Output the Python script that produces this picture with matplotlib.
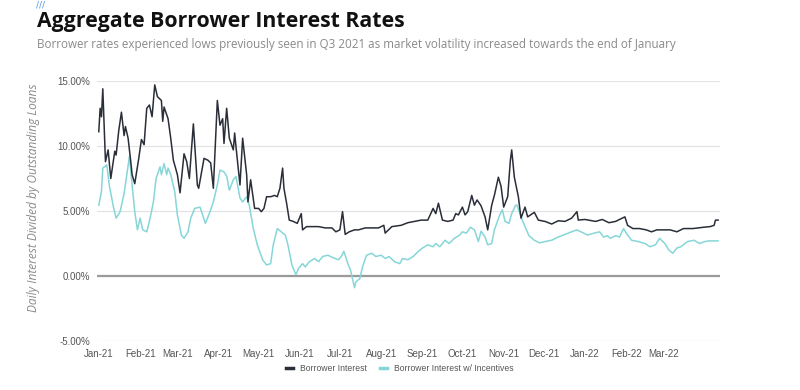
import matplotlib
matplotlib.use("Agg")
import matplotlib.pyplot as plt
import matplotlib.dates as mdates
import pandas as pd

# Borrower Interest (daily interest / outstanding loans, %)
bi_dates = [
    "2021-01-01", "2021-01-02", "2021-01-03", "2021-01-04", "2021-01-06", "2021-01-08", "2021-01-10",
    "2021-01-13", "2021-01-14", "2021-01-16", "2021-01-18", "2021-01-20", "2021-01-21", "2021-01-23",
    "2021-01-25", "2021-01-26", "2021-01-28", "2021-01-31", "2021-02-02", "2021-02-04", "2021-02-06",
    "2021-02-08", "2021-02-10", "2021-02-12", "2021-02-14", "2021-02-17", "2021-02-18", "2021-02-19",
    "2021-02-22", "2021-02-24", "2021-02-26", "2021-03-01", "2021-03-03", "2021-03-06", "2021-03-08",
    "2021-03-10", "2021-03-13", "2021-03-16", "2021-03-17", "2021-03-21", "2021-03-24", "2021-03-26",
    "2021-03-28", "2021-03-31", "2021-04-02", "2021-04-04", "2021-04-05", "2021-04-07", "2021-04-09",
    "2021-04-12", "2021-04-13", "2021-04-14", "2021-04-17", "2021-04-19", "2021-04-22", "2021-04-23",
    "2021-04-25", "2021-04-28", "2021-05-01", "2021-05-03", "2021-05-05", "2021-05-07", "2021-05-10",
    "2021-05-13", "2021-05-15", "2021-05-17", "2021-05-19", "2021-05-20", "2021-05-22", "2021-05-24",
    "2021-05-27", "2021-05-30", "2021-06-02", "2021-06-03", "2021-06-06", "2021-06-10", "2021-06-15",
    "2021-06-20", "2021-06-25", "2021-06-28", "2021-07-01", "2021-07-03", "2021-07-05", "2021-07-08",
    "2021-07-12", "2021-07-15", "2021-07-20", "2021-07-25", "2021-07-30", "2021-08-03", "2021-08-04",
    "2021-08-09", "2021-08-16", "2021-08-21", "2021-08-26", "2021-08-31", "2021-09-05", "2021-09-09",
    "2021-09-11", "2021-09-13", "2021-09-16", "2021-09-20", "2021-09-24", "2021-09-26", "2021-09-28",
    "2021-10-01", "2021-10-03", "2021-10-05", "2021-10-08", "2021-10-10", "2021-10-12", "2021-10-15",
    "2021-10-18", "2021-10-20", "2021-10-23", "2021-10-25", "2021-10-28", "2021-10-30", "2021-11-01",
    "2021-11-04", "2021-11-06", "2021-11-07", "2021-11-09", "2021-11-12", "2021-11-14", "2021-11-17",
    "2021-11-19", "2021-11-24", "2021-11-27", "2021-12-02", "2021-12-07", "2021-12-12", "2021-12-17",
    "2021-12-22", "2021-12-26", "2021-12-27", "2022-01-01", "2022-01-09", "2022-01-14", "2022-01-19",
    "2022-01-24", "2022-01-29", "2022-01-31", "2022-02-02", "2022-02-06", "2022-02-11", "2022-02-16",
    "2022-02-20", "2022-02-24", "2022-02-28", "2022-03-06", "2022-03-11", "2022-03-16", "2022-03-23",
    "2022-03-31", "2022-04-05", "2022-04-08", "2022-04-09", "2022-04-11",
]
bi_values = [
    11.1, 12.9, 12.25, 14.4, 8.8, 9.7, 7.5,
    9.6, 9.3, 11.2, 12.6, 10.8, 11.5, 10.6,
    8.8, 7.8, 7.1, 9.05, 10.5, 10.1, 12.9,
    13.15, 12.25, 14.7, 13.8, 13.5, 11.9, 13.0,
    12.1, 10.6, 8.9, 7.8, 6.4, 9.4, 8.8,
    7.5, 11.7, 7.0, 6.75, 9.05, 8.9, 8.7,
    6.75, 13.5, 11.6, 12.1, 10.2, 12.9, 10.6,
    9.7, 11.0, 9.95, 7.0, 10.6, 7.8, 5.7,
    7.4, 5.2, 5.2, 4.95, 5.2, 6.1, 6.1,
    6.2, 6.1, 6.75, 8.3, 6.75, 5.6, 4.3,
    4.2, 4.05, 4.8, 3.55, 3.8, 3.8, 3.8,
    3.7, 3.7, 3.4, 3.55, 4.95, 3.2, 3.4,
    3.55, 3.55, 3.7, 3.7, 3.7, 3.9, 3.3,
    3.8, 3.9, 4.1, 4.2, 4.3, 4.3, 5.2,
    4.8, 5.6, 4.3, 4.2, 4.3, 4.8, 4.7,
    5.3, 4.7, 4.95, 6.2, 5.45, 5.85, 5.4,
    4.55, 3.55, 5.45, 6.2, 7.6, 6.9, 5.3,
    6.1, 8.9, 9.7, 7.6, 6.1, 4.45, 5.3,
    4.55, 4.9, 4.3, 4.2, 4.0, 4.25, 4.2,
    4.45, 4.95, 4.3, 4.35, 4.2, 4.35, 4.1,
    4.2, 4.45, 4.55, 3.9, 3.65, 3.65, 3.55,
    3.4, 3.55, 3.55, 3.55, 3.4, 3.65, 3.65,
    3.75, 3.8, 3.9, 4.3, 4.3,
]

# Borrower Interest w/ Incentives (%)
inc_dates = [
    "2021-01-01", "2021-01-03", "2021-01-04", "2021-01-07", "2021-01-09", "2021-01-12", "2021-01-14",
    "2021-01-17", "2021-01-20", "2021-01-22", "2021-01-24", "2021-01-26", "2021-01-28", "2021-01-30",
    "2021-02-01", "2021-02-03", "2021-02-06", "2021-02-08", "2021-02-11", "2021-02-13", "2021-02-16",
    "2021-02-17", "2021-02-19", "2021-02-21", "2021-02-22", "2021-02-24", "2021-02-27", "2021-03-01",
    "2021-03-04", "2021-03-06", "2021-03-09", "2021-03-11", "2021-03-14", "2021-03-18", "2021-03-20",
    "2021-03-22", "2021-03-25", "2021-03-28", "2021-03-31", "2021-04-02", "2021-04-05", "2021-04-07",
    "2021-04-09", "2021-04-12", "2021-04-14", "2021-04-17", "2021-04-19", "2021-04-22", "2021-04-24",
    "2021-04-27", "2021-04-30", "2021-05-04", "2021-05-07", "2021-05-10", "2021-05-12", "2021-05-15",
    "2021-05-18", "2021-05-21", "2021-05-23", "2021-05-26", "2021-05-29", "2021-05-31", "2021-06-03",
    "2021-06-05", "2021-06-08", "2021-06-12", "2021-06-15", "2021-06-18", "2021-06-22", "2021-06-26",
    "2021-06-30", "2021-07-02", "2021-07-04", "2021-07-07", "2021-07-09", "2021-07-12", "2021-07-13",
    "2021-07-16", "2021-07-18", "2021-07-21", "2021-07-25", "2021-07-28", "2021-08-01", "2021-08-04",
    "2021-08-07", "2021-08-11", "2021-08-15", "2021-08-17", "2021-08-21", "2021-08-25", "2021-08-29",
    "2021-09-01", "2021-09-05", "2021-09-09", "2021-09-11", "2021-09-14", "2021-09-18", "2021-09-21",
    "2021-09-25", "2021-09-29", "2021-10-01", "2021-10-04", "2021-10-07", "2021-10-10", "2021-10-13",
    "2021-10-15", "2021-10-18", "2021-10-20", "2021-10-23", "2021-10-25", "2021-10-29", "2021-10-31",
    "2021-11-02", "2021-11-05", "2021-11-07", "2021-11-10", "2021-11-11", "2021-11-14", "2021-11-17",
    "2021-11-20", "2021-11-24", "2021-11-28", "2021-12-02", "2021-12-07", "2021-12-12", "2021-12-17",
    "2021-12-22", "2021-12-26", "2021-12-29", "2022-01-03", "2022-01-08", "2022-01-12", "2022-01-15",
    "2022-01-18", "2022-01-20", "2022-01-24", "2022-01-27", "2022-01-30", "2022-02-01", "2022-02-05",
    "2022-02-10", "2022-02-15", "2022-02-19", "2022-02-23", "2022-02-26", "2022-03-02", "2022-03-05",
    "2022-03-08", "2022-03-11", "2022-03-14", "2022-03-19", "2022-03-24", "2022-03-28", "2022-04-01",
    "2022-04-04", "2022-04-11",
]
inc_values = [
    5.45, 6.5, 8.3, 8.55, 6.9, 5.3, 4.45,
    4.95, 6.35, 7.8, 9.2, 7.0, 4.95, 3.55,
    4.45, 3.55, 3.4, 4.2, 5.7, 7.5, 8.4,
    7.8, 8.65, 7.8, 8.3, 7.8, 6.5, 4.7,
    3.15, 2.9, 3.4, 4.45, 5.2, 5.3, 4.7,
    4.05, 4.8, 5.7, 7.0, 8.15, 8.0, 7.7,
    6.6, 7.4, 7.65, 6.0, 5.7, 6.1, 5.45,
    3.65, 2.4, 1.25, 0.85, 0.95, 2.4, 3.65,
    3.4, 3.15, 2.4, 0.85, 0.1, 0.6, 0.95,
    0.7, 1.1, 1.35, 1.1, 1.5, 1.6, 1.4,
    1.25, 1.5, 1.9, 0.95, 0.45, -0.9, -0.45,
    -0.2, 0.7, 1.6, 1.75, 1.5, 1.6, 1.35,
    1.5, 1.1, 0.95, 1.35, 1.25, 1.5, 1.9,
    2.15, 2.4, 2.25, 2.5, 2.25, 2.75, 2.5,
    2.9, 3.15, 3.4, 3.3, 3.75, 3.55, 2.65,
    3.45, 3.0, 2.4, 2.5, 3.55, 4.7, 5.1,
    4.2, 4.05, 4.8, 5.45, 5.45, 4.55, 3.8,
    3.1, 2.75, 2.55, 2.65, 2.75, 3.0, 3.2,
    3.4, 3.55, 3.4, 3.15, 3.3, 3.4, 3.0,
    3.1, 2.9, 3.1, 3.0, 3.65, 3.3, 2.75,
    2.65, 2.5, 2.25, 2.4, 2.9, 2.5, 2.0,
    1.75, 2.15, 2.25, 2.65, 2.75, 2.5, 2.65,
    2.7, 2.7,
]

series_names = ["Borrower Interest", "Borrower Interest w/ Incentives"]
y_ticks = [-5, 0, 5, 10, 15]
month_ticks = pd.date_range("2021-01-01", "2022-03-01", freq="MS")

dark = "#2a2e38"
teal = "#86d6d8"
gray_text = "#8a8a8a"

fig = plt.figure(figsize=(8, 3.9), dpi=100)
ax = fig.add_axes([0.121, 0.1256, 0.779, 0.6667])

ax.plot(pd.to_datetime(bi_dates), bi_values, color=dark, lw=1.1, label=series_names[0], zorder=3)
ax.plot(pd.to_datetime(inc_dates), inc_values, color=teal, lw=1.1, label=series_names[1], zorder=2)

start = pd.Timestamp("2021-01-01")
ax.set_xlim(start - pd.Timedelta(days=1.5), start + pd.Timedelta(days=466.4))
ax.set_ylim(-5, 15)

ax.set_yticks(y_ticks)
ax.set_yticklabels([f"{v:.2f}%" for v in y_ticks])
ax.set_xticks(month_ticks)
ax.xaxis.set_major_formatter(mdates.DateFormatter("%b-%y"))

for v in y_ticks:
    if v == 0:
        ax.axhline(v, color="#9a9a9a", lw=1.6, zorder=1)
    else:
        ax.axhline(v, color="#e3e3e3", lw=0.9, zorder=0)

for s in ax.spines.values():
    s.set_visible(False)
ax.tick_params(axis="both", length=0, labelsize=7, labelcolor="#555555")
ax.tick_params(axis="x", pad=6)
ax.tick_params(axis="y", pad=5)
for lab in ax.get_xticklabels() + ax.get_yticklabels():
    lab.set_family("Liberation Sans")

ax.set_ylabel("Daily Interest Divided by Outstanding Loans", fontsize=8.6, color=gray_text,
              style="italic", family="Open Sans")
ax.yaxis.set_label_coords(-0.091, 0.55)

leg = ax.legend(loc="upper center", bbox_to_anchor=(0.486, -0.06), ncol=2, frameon=False,
                fontsize=6.2, handlelength=0.8, columnspacing=1.6, handletextpad=0.8)
for line in leg.get_lines():
    line.set_linewidth(2.5)
for t in leg.get_texts():
    t.set_color("#555555")
    t.set_family("Liberation Sans")

fig.text(0.046, 0.946, "Aggregate Borrower Interest Rates", fontsize=15.3, fontweight="bold",
         family="Open Sans", color="#111111", va="center")
fig.text(0.046, 0.885, "Borrower rates experienced lows previously seen in Q3 2021 as market "
         "volatility increased towards the end of January", fontsize=8.4, family="Open Sans",
         color=gray_text, va="center")
fig.text(0.045, 0.998, "///", fontsize=6, fontweight="bold", color="#6aa8e8", va="top")

fig.savefig("out.png", dpi=100, facecolor="white")
